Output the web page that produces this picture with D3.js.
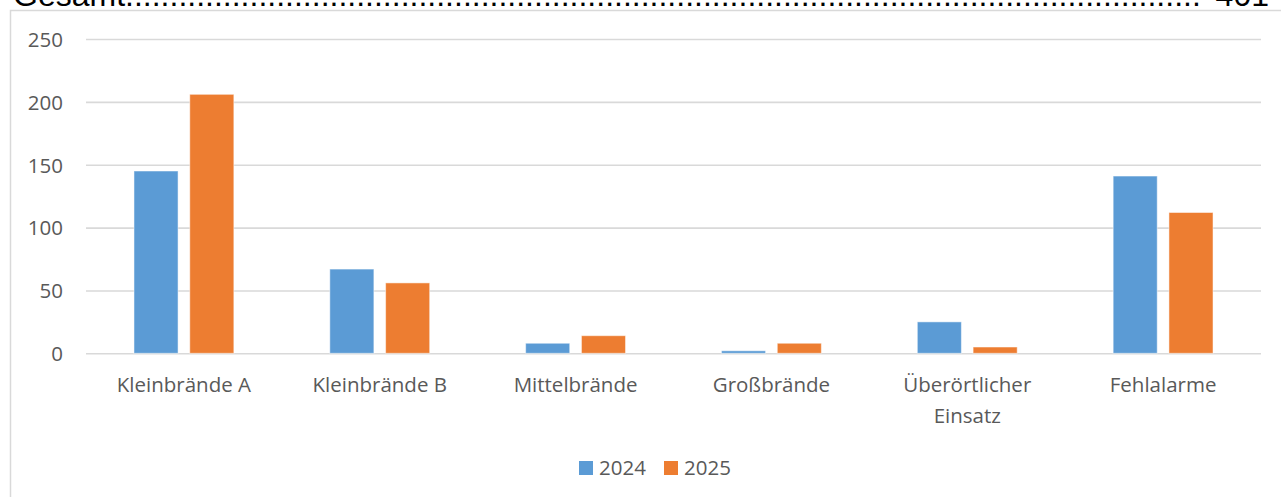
<!DOCTYPE html>
<html>
<head>
<meta charset="utf-8">
<script src="https://cdn.jsdelivr.net/npm/d3@7"></script>
<style>
  body { margin: 0; background: #fff; }
  svg { display: block; }
</style>
</head>
<body>
<div id="chart"></div>
<script>
const categories = ['Kleinbrände A', 'Kleinbrände B', 'Mittelbrände', 'Großbrände', 'Überörtlicher Einsatz', 'Fehlalarme']
const years = ['2024', '2025']
const values2024 = [145, 67, 8, 2, 25, 141]
const values2025 = [206, 56, 14, 8, 5, 112]
const yTicks = [0, 50, 100, 150, 200, 250]
const totalLabel = 'Gesamt'
const totalValue = '401'

const colors = { '2024': '#5b9bd5', '2025': '#ed7d31' }

const W = 1281
const H = 497
const labelFont = '"Open Sans", sans-serif'
const labelSize = 20.5

const svg = d3
  .select('#chart')
  .append('svg')
  .attr('width', W)
  .attr('height', H)

// heading line, cut off at the top like in the original
const head = svg.append('g').attr('font-family', '"Liberation Sans", Arial, sans-serif')
  .attr('font-size', 32).attr('fill', '#000')
const gesamt = head.append('text').attr('x', 13).attr('y', 6).text(totalLabel)
const total = head.append('text').attr('x', 1269).attr('y', 6)
  .attr('text-anchor', 'end').text(totalValue)
const dotsStart = 13 + gesamt.node().getComputedTextLength()
const dotsEnd = 1269 - total.node().getComputedTextLength() - 6
const dots = head.append('text').attr('x', dotsStart).attr('y', 6).text('.')
const dotW = dots.node().getComputedTextLength()
dots.text('.'.repeat(Math.floor((dotsEnd - dotsStart) / dotW)))

// chart frame
svg.append('rect')
  .attr('x', 10.5)
  .attr('y', 10.5)
  .attr('width', 1400)
  .attr('height', 700)
  .attr('fill', 'none')
  .attr('stroke', '#d9d9d9')
  .attr('stroke-width', 1.5)

const plot = { left: 86, right: 1261, top: 39, bottom: 353.3 }

const yScale = d3.scaleLinear().domain([0, 250]).range([plot.bottom, plot.top])

const x0 = d3.scaleBand()
  .domain(categories)
  .range([plot.left, plot.right])
  .paddingInner(0.49)
  .paddingOuter(0.245)

const x1 = d3.scaleBand()
  .domain(years)
  .range([0, x0.bandwidth()])
  .paddingInner(0.21)

// gridlines + y labels
const yAxis = d3.axisLeft(yScale)
  .tickValues(yTicks)
  .tickSize(-(plot.right - plot.left))
  .tickPadding(23)

const yg = svg.append('g')
  .attr('transform', 'translate(' + plot.left + ',0)')
  .call(yAxis)
yg.select('.domain').remove()
yg.selectAll('.tick line').attr('stroke', '#d9d9d9').attr('stroke-width', 1.6)
yg.selectAll('.tick text')
  .attr('font-family', labelFont)
  .attr('font-size', labelSize)
  .attr('fill', '#595959')
  .attr('dy', '0.36em')

const rows = categories.map((c, i) => ({ category: c, '2024': values2024[i], '2025': values2025[i] }))

const groups = svg.append('g')
  .selectAll('g')
  .data(rows)
  .enter()
  .append('g')
  .attr('transform', d => 'translate(' + x0(d.category) + ',0)')

groups.selectAll('rect')
  .data(d => years.map(y => ({ year: y, value: d[y] })))
  .enter()
  .append('rect')
  .attr('x', d => x1(d.year))
  .attr('width', x1.bandwidth())
  .attr('y', d => yScale(d.value))
  .attr('height', d => yScale(0) - yScale(d.value))
  .attr('fill', d => colors[d.year])
  .attr('stroke', '#fff')
  .attr('stroke-opacity', 0.5)
  .attr('stroke-width', 1)

// category labels, wrapped like the original
const lines = {
  'Überörtlicher Einsatz': ['Überörtlicher', 'Einsatz']
}
const xl = svg.append('g')
  .attr('font-family', labelFont)
  .attr('font-size', labelSize)
  .attr('fill', '#595959')
  .attr('text-anchor', 'middle')

categories.forEach(c => {
  const parts = lines[c] || [c]
  const cx = x0(c) + x0.bandwidth() / 2
  const t = xl.append('text').attr('x', cx).attr('y', 392)
  parts.forEach((p, i) => {
    t.append('tspan')
      .attr('x', cx)
      .attr('dy', i === 0 ? 0 : 31)
      .text(p)
  })
})

// legend
const legend = svg.append('g')
  .attr('font-family', labelFont)
  .attr('font-size', labelSize)
  .attr('fill', '#595959')

const legendX = [579, 664]
years.forEach((y, i) => {
  legend.append('rect')
    .attr('x', legendX[i])
    .attr('y', 461)
    .attr('width', 14)
    .attr('height', 14)
    .attr('fill', colors[y])
  legend.append('text')
    .attr('x', legendX[i] + 20)
    .attr('y', 475)
    .text(y)
})
</script>
</body>
</html>
